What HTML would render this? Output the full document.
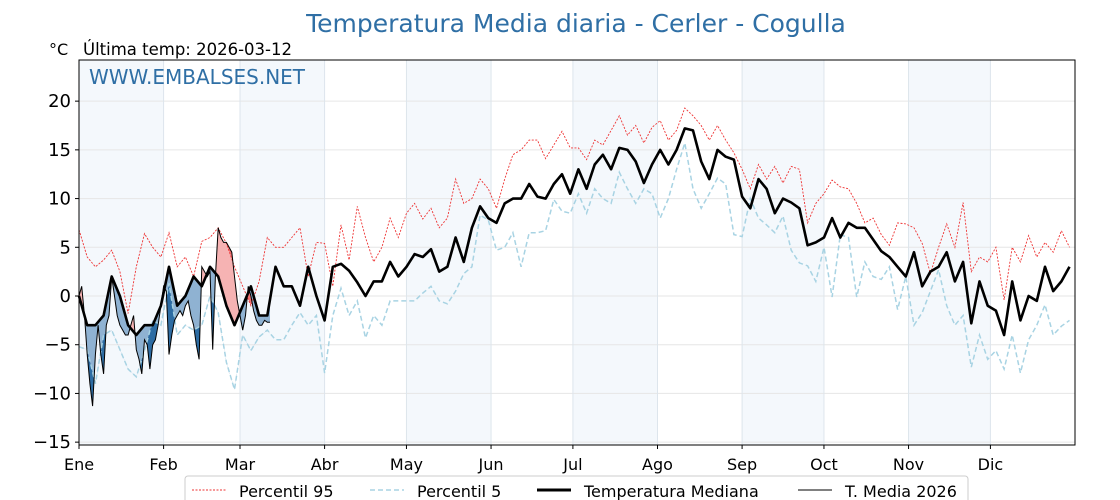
<!DOCTYPE html>
<html><head><meta charset="utf-8"><style>
body{margin:0;background:#fff;}
svg{display:block;font-family:"DejaVu Sans","Liberation Sans",sans-serif;}
</style></head><body>
<svg id="chart" width="1120" height="500" viewBox="0 0 1120 500" xmlns="http://www.w3.org/2000/svg">
<text x="576" y="32" text-anchor="middle" font-size="25" fill="#2f6fa5">Temperatura Media diaria - Cerler - Cogulla</text>
<text x="49" y="55" font-size="16" fill="#000">°C</text>
<text x="83" y="55" font-size="16.5" fill="#000">Última temp: 2026-03-12</text>
<g id="bands"></g><g id="grid"></g><g id="fills"></g><g id="lines"></g><g id="axes"></g>
<text x="89" y="84" font-size="20" fill="#2f6fa5">WWW.EMBALSES.NET</text>
<g>
<rect x="185" y="476" width="783" height="34" rx="3" fill="#fff" stroke="#ccc"/>
<line x1="192" y1="490" x2="226" y2="490" stroke="#e33" stroke-width="1" stroke-dasharray="2,1.5"/>
<text x="239" y="497" font-size="16">Percentil 95</text>
<line x1="370" y1="490" x2="404" y2="490" stroke="#a8d3e3" stroke-width="1.5" stroke-dasharray="5,3"/>
<text x="417" y="497" font-size="16">Percentil 5</text>
<line x1="537" y1="490" x2="571" y2="490" stroke="#000" stroke-width="3"/>
<text x="584" y="497" font-size="16">Temperatura Mediana</text>
<line x1="798" y1="490" x2="832" y2="490" stroke="#000" stroke-width="1"/>
<text x="845" y="497" font-size="16">T. Media 2026</text>
</g>
</svg>
<script>
const months = ["Ene","Feb","Mar","Abr","May","Jun","Jul","Ago","Sep","Oct","Nov","Dic"];
const monthStartDays = [0,31,59,90,120,151,181,212,243,273,304,334];
const yTicks = [20,15,10,5,0,-5,-10,-15];
const sampleStep = 3;
const median = [0,-3,-3,-2,2,0,-3,-4,-3,-3,-1,3,-1,0,2,1,3,2,-1,-3,-1,1,-2,-2,3,1,1,-1,3,0,-2.5,3,3.3,2.6,1.4,0,1.5,1.5,3.5,2,3,4.3,4,4.8,2.5,3,6,3.5,7,9.2,8,7.5,9.5,10,10,11.5,10.2,10,11.5,12.5,10.5,13,11,13.5,14.5,13,15.2,15,13.8,11.6,13.5,15,13.5,15,17.2,17,13.8,12,15,14.3,14,10.2,9,12,11,8.5,10,9.6,9,5.2,5.5,6,8,6,7.5,7,7,5.8,4.6,4,3,2,4.5,1,2.5,3,4.5,1.5,3.5,-2.8,1.5,-1,-1.5,-4,1.5,-2.5,0,-0.5,3,0.5,1.5,3];
const p95 = [6.8,4,3,3.7,4.7,2.5,-1.8,3,6.4,5,4,6.5,3,4,2,5.6,6,7,5.4,3,1,-1,1.5,6,5,5,6,7,2,5.5,5.4,1,7.3,3.7,9.2,6,3.5,5,8,6,8.5,9.5,7.9,9,7,8,12,9.5,10,12,11,9,12,14.5,15,16,16,14.1,15.5,16.9,15.2,15.2,14,16,15.5,17,18.5,16.5,17.5,15.7,17.3,18,16,17,19.3,18.5,17.5,16,17.5,16,14.7,13,11,13.5,12,13.3,11.6,13.3,13,7.5,9.5,10.5,11.9,11.2,11,9.5,7.5,8,6.3,5.2,7.5,7.4,7,5.4,2.3,5,7.4,5,9.6,2.5,4,3.5,5,-0.4,5,3.5,6.2,4,5.5,4.5,6.7,5];
const p5 = [-5.2,-5.5,-9,-4,-3.5,-5.5,-7.5,-8.3,-5.6,-2.5,-3,1.3,-4,-3,-3.5,-3,0,-1.7,-6.8,-9.6,-4,-5.6,-4.2,-3.5,-4.5,-4.5,-3,-1.7,-3,-2,-7.9,-2,0.8,-2,-0.5,-4.3,-2,-3,-0.5,-0.5,-0.5,-0.5,0.3,1,-0.5,-0.8,0.5,2.3,3,8.3,7.8,4.7,5,6.5,3,6.5,6.5,6.7,9.9,8.7,8.5,10.5,8.5,11,10,9.5,12.7,11,9.5,11,10.5,8,10,13,15.7,11,9,10.5,12.1,11.5,6.3,6.1,10,8,7.3,6.5,8.2,4.7,3.4,3.1,1.5,5,-0.1,6.3,6,-0.1,3.5,2,1.7,3,-1.4,2,-3,-1.7,0.5,2.7,-1,-3,-2,-7.3,-4,-6.5,-5.6,-7.5,-4,-7.9,-4.5,-3,-0.9,-4,-3.1,-2.5];
const t2026 = [0,1,-2,-6,-9,-11.3,-6,-3,-6,-8,-3,-2,2,0,-2,-3,-3.5,-4,-4,-3,-2,-5.5,-6.5,-8,-4.5,-5,-7.5,-5,-4.5,-3,-1,1,0.5,-6,-4,-2.5,-2,-1.5,-2,-1,-0.5,-2,-3,-5,-6.5,3,2.5,2,2.5,-5.5,2,7,6,5.5,5.5,5,4.5,2,-0.5,-2,-3.5,-2,1,0,-1.5,-2.5,-3,-3,-2.5,-2.7,-2.7];

const NS="http://www.w3.org/2000/svg";
const X0=79,X1=1075,Y0=60,Y1=445;
const xs=d=>X0+d*(X1-X0)/365;
const ys=v=>296-v*9.743;
function mk(tag,attrs,parent){const e=document.createElementNS(NS,tag);for(const k in attrs)e.setAttribute(k,attrs[k]);parent.appendChild(e);return e;}
const bands=document.getElementById('bands'),grid=document.getElementById('grid'),fills=document.getElementById('fills'),lines=document.getElementById('lines'),axes=document.getElementById('axes');
const bounds=monthStartDays.concat([365]);
for(let i=0;i<12;i+=2){
  const r=mk('rect',{x:xs(bounds[i]),y:Y0,width:xs(bounds[i+1])-xs(bounds[i]),height:Y1-Y0,fill:'#f4f8fc'},bands);
  
  
}
yTicks.forEach(v=>{
  const l=mk('line',{x1:X0,x2:X1,y1:ys(v),y2:ys(v),stroke:'#e6e6e6','stroke-width':1},grid);
  
  
  mk('line',{x1:X0-4,x2:X0,y1:ys(v),y2:ys(v),stroke:'#000'},axes);
  const t=mk('text',{x:X0-8,y:ys(v)+6,'text-anchor':'end','font-size':18},axes);
  t.textContent=(v<0?'\u2212'+(-v):String(v));
  
  
});
months.forEach((m,i)=>{
  const x=xs(monthStartDays[i]);
  const l=mk('line',{x1:x,x2:x,y1:Y0,y2:Y1,stroke:'#dde5ec','stroke-width':1},grid);
  
  
  mk('line',{x1:x,x2:x,y1:Y1,y2:Y1+4,stroke:'#000'},axes);
  const t=mk('text',{x:x,y:470,'text-anchor':'middle','font-size':16},axes);
  t.textContent=m;
  
  
});
const frame=mk('rect',{x:X0,y:Y0,width:X1-X0,height:Y1-Y0,fill:'none',stroke:'#000','stroke-width':1},axes);



const pts=arr=>arr.map((v,i)=>[xs(i*sampleStep),ys(v)]);
const ptsDaily=arr=>arr.map((v,i)=>[xs(i),ys(v)]);
const str=p=>p.map(q=>q[0].toFixed(1)+','+q[1].toFixed(1)).join(' ');
function interp(arr,d){const i=Math.floor(d/sampleStep),f=(d-i*sampleStep)/sampleStep;const a=arr[Math.min(i,arr.length-1)],b=arr[Math.min(i+1,arr.length-1)];return a+(b-a)*f;}

const defs=mk('defs',{},fills);
const n=t2026.length;
function clip(id,ref,below){
  const c=mk('clipPath',{id:id},defs);
  const p=[];for(let d=0;d<n;d++)p.push([xs(d),ys(interp(ref,d))]);
  const edge=below?Y1:Y0;
  mk('polygon',{points:str([[xs(0),edge]].concat(p,[[xs(n-1),edge]]))},c);
}
clip('belowMed',median,true);clip('aboveMed',median,false);clip('belowP5',p5,true);clip('aboveP95',p95,false);
function band(ref,color,clipId,name){
  const top=ptsDaily(t2026);const bot=[];for(let d=n-1;d>=0;d--)bot.push([xs(d),ys(interp(ref,d))]);
  const pg=mk('polygon',{points:str(top.concat(bot)),fill:color,stroke:'none','clip-path':'url(#'+clipId+')'},fills);
  
  
}
band(median,'#8fb2d2','belowMed','fill-below-median');
band(median,'#f6b3b3','aboveMed','fill-above-median');
band(p5,'#2d6ca3','belowP5','fill-below-p5');
band(p95,'#ef7373','aboveP95','fill-above-p95');

const l95=mk('polyline',{points:str(pts(p95)),fill:'none',stroke:'#e33','stroke-width':0.9,'stroke-dasharray':'2,1.5'},lines);


const l5=mk('polyline',{points:str(pts(p5)),fill:'none',stroke:'#a8d3e3','stroke-width':1.5,'stroke-dasharray':'5,3'},lines);


const lm=mk('polyline',{points:str(pts(median)),fill:'none',stroke:'#000','stroke-width':2.6,'stroke-linejoin':'round'},lines);


const l26=mk('polyline',{points:str(ptsDaily(t2026)),fill:'none',stroke:'#000','stroke-width':1},lines);


</script>
</body></html>
